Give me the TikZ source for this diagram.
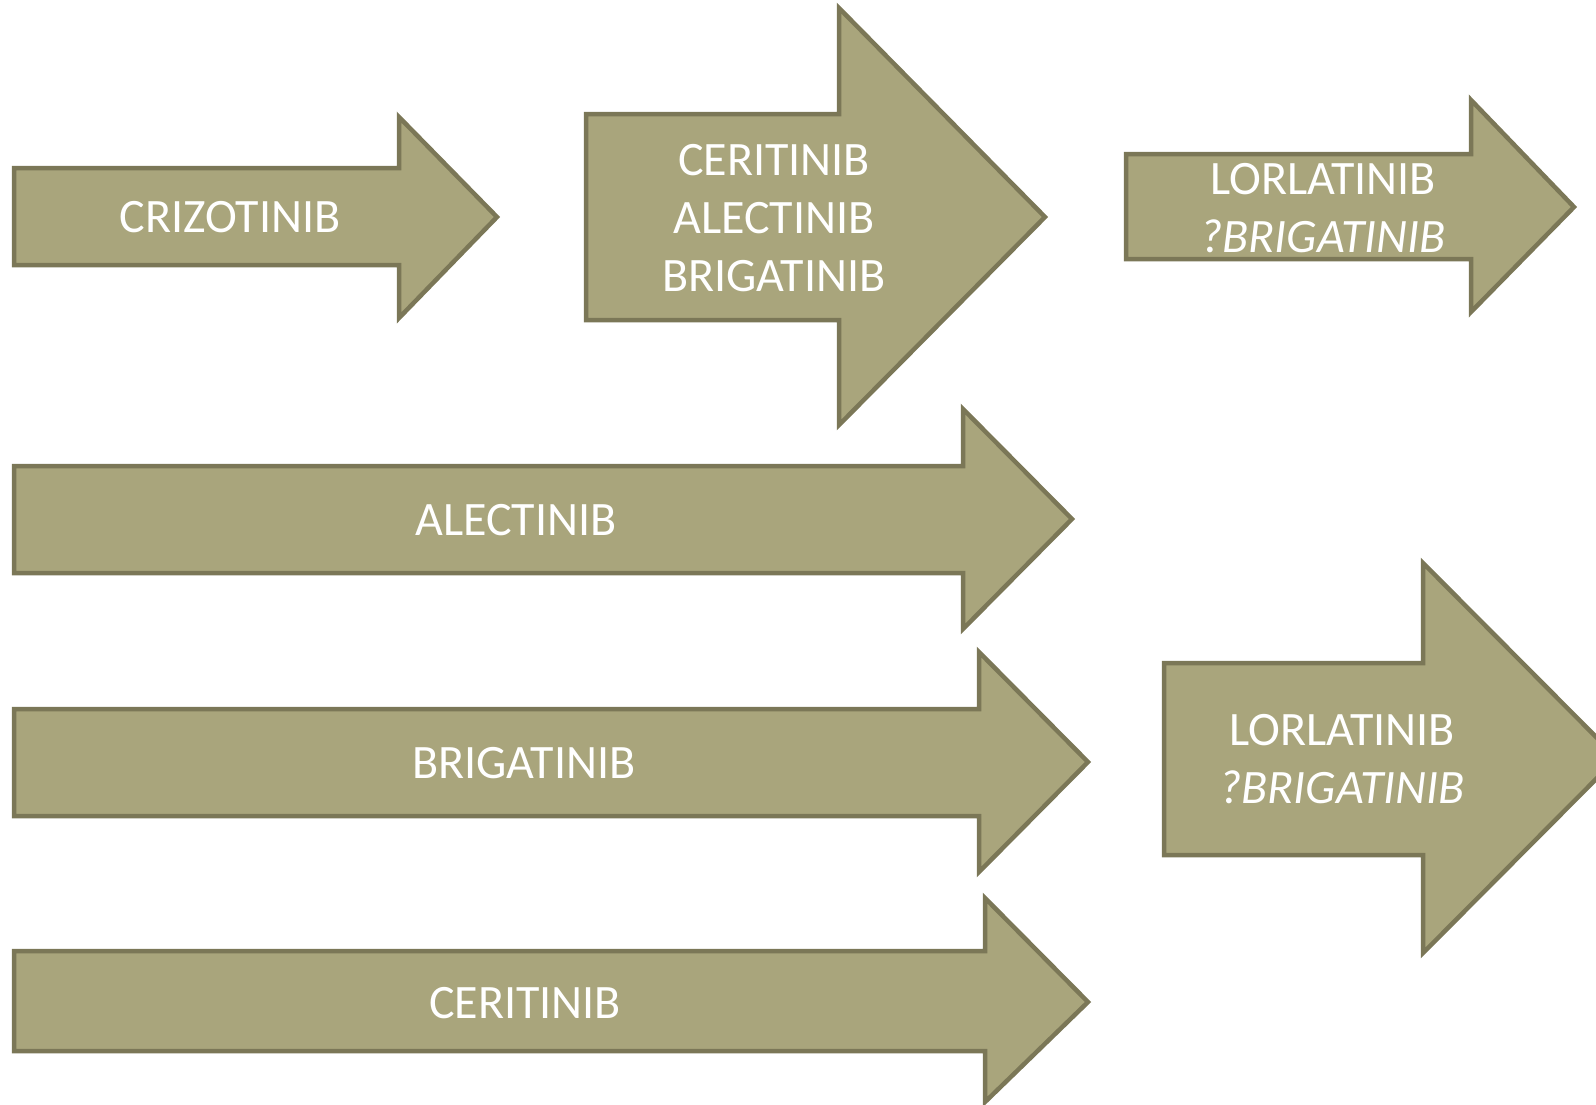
\documentclass[tikz,border=0pt]{standalone}
\usepackage{fontspec}
\setmainfont{Carlito}
\definecolor{arrowfill}{HTML}{A9A57C}
\definecolor{arrowline}{HTML}{7B7757}
\newcommand\fatarrow[8]{% left, top, bottom, headx, headtop, headbottom, tipx, tipy
  \path[arrowbox] (#1,#2) -- (#4,#2) -- (#4,#5) -- (#7,#8) -- (#4,#6) -- (#4,#3) -- (#1,#3) -- cycle;}
\begin{document}
\begin{tikzpicture}[x=1pt,y=-1pt,
  arrowbox/.style={fill=arrowfill,draw=arrowline,line width=4.5pt,line join=miter},
  label/.style={text=white,font=\fontsize{48}{58}\selectfont,align=center,inner sep=0pt}]
\useasboundingbox (0,0) rectangle (1596,1104);
\clip (0,0) rectangle (1596,1104);
% arrows
\fatarrow{14}{168}{265}{399}{117}{318}{497}{217}
\fatarrow{586}{114}{320}{839}{8}{425}{1045}{217}
\fatarrow{1126}{154}{259}{1471}{100}{312}{1574}{207}
\fatarrow{14}{466}{573}{963}{409}{629}{1072}{519}
\fatarrow{14}{709}{816}{979}{652}{872}{1088}{762}
\fatarrow{14}{951}{1051}{985}{898}{1102}{1088}{1002}
\fatarrow{1164}{663}{855}{1423}{563}{953}{1617}{758}
% labels
\node[label] (criz) at (230,217) {CRIZOTINIB};
\node[label] (second) at (774,218) {CERITINIB\\ALECTINIB\\BRIGATINIB};
\node[label] (lorl1) at (1323,208) {LORLATINIB\\\textit{?BRIGATINIB}};
\node[label] (alec) at (516,520) {ALECTINIB};
\node[label] (brig) at (524,763) {BRIGATINIB};
\node[label] (ceri) at (525,1003) {CERITINIB};
\node[label] (lorl2) at (1342,759) {LORLATINIB\\\textit{?BRIGATINIB}};
\end{tikzpicture}
\end{document}
